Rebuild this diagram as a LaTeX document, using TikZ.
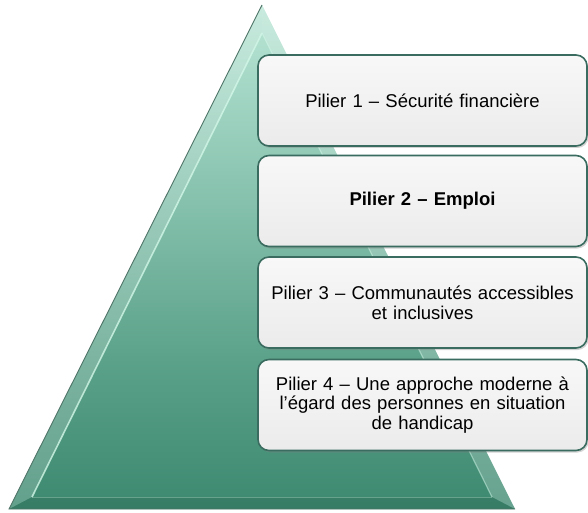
\documentclass[tikz,border=0pt]{standalone}
\usepackage{fontspec}
\setmainfont{Liberation Sans}
\usetikzlibrary{shadows}
\definecolor{pyrT}{HTML}{BAE6D6}
\definecolor{pyrM1}{HTML}{8CC6B2}
\definecolor{pyrM2}{HTML}{5CA28A}
\definecolor{pyrB}{HTML}{3C8970}
\definecolor{edgeDark}{HTML}{4F7468}
\definecolor{hiLite}{HTML}{D2F7E8}
\definecolor{boxBorder}{HTML}{3A6C5F}
\definecolor{boxTop}{HTML}{F8F8F8}
\definecolor{boxBot}{HTML}{EBEBEB}
\pgfdeclareverticalshading{pyr}{100bp}{color(0bp)=(pyrB); color(25bp)=(pyrB); color(40bp)=(pyrM2); color(58bp)=(pyrM1); color(75bp)=(pyrT); color(100bp)=(pyrT)}
\tikzset{
  pillar/.style={draw=boxBorder, line width=1.6pt, rounded corners=11pt,
    top color=boxTop, bottom color=boxBot,
    drop shadow={opacity=0.35, shadow xshift=1.5pt, shadow yshift=-2pt},
    minimum width=329pt, minimum height=91pt, inner sep=0pt,
    align=center, text width=320pt,
    font=\fontsize{18.5pt}{19.8pt}\selectfont},
  bevelL/.style={fill=white, fill opacity=0.2},
  bevelB/.style={fill=black, fill opacity=0.09},
  bevelR/.style={fill=white, fill opacity=0.22}
}
\begin{document}
\begin{tikzpicture}[x=1pt,y=1pt]
\useasboundingbox (0,0) rectangle (588,512);
% pyramid corners
\coordinate (A) at (262,507);
\coordinate (B) at (9,3);
\coordinate (C) at (515,3);
\coordinate (Ai) at (262,479);
\coordinate (Bi) at (32,15);
\coordinate (Ci) at (492,15);
\shade[shading=pyr] (A) -- (B) -- (C) -- cycle;
\path[bevelL] (A) -- (B) -- (Bi) -- (Ai) -- cycle;
\path[bevelB] (B) -- (C) -- (Ci) -- (Bi) -- cycle;
\path[bevelR] (C) -- (A) -- (Ai) -- (Ci) -- cycle;
\draw[hiLite, line width=1.6pt, opacity=0.8] (Ai) -- (Bi);
\draw[hiLite, line width=1pt, opacity=0.3] (Bi) -- (Ci);
\draw[hiLite, line width=1.2pt, opacity=0.5] (Ci) -- (Ai);
\draw[edgeDark, line width=0.9pt] (A) -- (B) -- (C);
% pillars
\node[pillar] (p1) at (422.5,411.5) {Pilier 1 – Sécurité financière};
\node[pillar] (p2) at (422.5,311) {\textbf{Pilier 2 – Emploi}};
\node[pillar] (p3) at (422.5,209.5) {Pilier 3 – Communautés accessibles\\et inclusives};
\node[pillar] (p4) at (422.5,107) {Pilier 4 – Une approche moderne à\\l’égard des personnes en situation\\de handicap};
\end{tikzpicture}
\end{document}
